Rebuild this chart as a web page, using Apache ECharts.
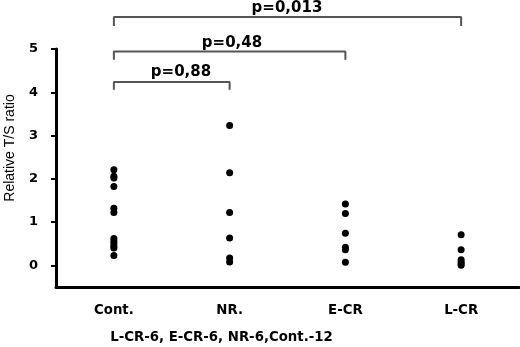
<!DOCTYPE html>
<html>
<head>
<meta charset="utf-8">
<script src="https://cdn.jsdelivr.net/npm/echarts@6/dist/echarts.min.js"></script>
<style>html,body{margin:0;padding:0;background:#fff}#c{width:520px;height:347px}</style>
</head>
<body>
<div id="c"></div>
<script>
var categories = ['Cont.', 'NR.', 'E-CR', 'L-CR'];
var contValues = [2.21, 2.06, 2.02, 1.82, 1.32, 1.22, 0.62, 0.56, 0.5, 0.44, 0.4, 0.23];
var nrValues = [3.23, 2.14, 1.22, 0.63, 0.17, 0.08];
var ecrValues = [1.42, 1.2, 0.74, 0.42, 0.36, 0.07];
var lcrValues = [0.71, 0.36, 0.13, 0.08, 0.04, 0.0];
var yTickValues = [0, 1, 2, 3, 4, 5];
var yAxisName = 'Relative T/S ratio';
var footnote = 'L-CR-6, E-CR-6, NR-6,Cont.-12';
var bracketFrom = ['Cont.', 'Cont.', 'Cont.'];
var bracketTo = ['NR.', 'E-CR', 'L-CR'];
var bracketTop = [4.24, 4.94, 5.74];
var bracketFoot = [4.06, 4.75, 5.53];
var pLabels = ['p=0,88', 'p=0,48', 'p=0,013'];

var groups = [contValues, nrValues, ecrValues, lcrValues];
var points = [];
groups.forEach(function (vals, i) {
  vals.forEach(function (v) { points.push([categories[i], v]); });
});

var bracketSeries = bracketTop.map(function (t, i) {
  return {
    type: 'line', clip: false, silent: true, symbol: 'none', animation: false,
    lineStyle: { color: '#555', width: 2 },
    data: [[bracketFrom[i], bracketFoot[i]], [bracketFrom[i], t], [bracketTo[i], t], [bracketTo[i], bracketFoot[i]]]
  };
});

var chart = echarts.init(document.getElementById('c'));
var FONT = 'DejaVu Sans';
chart.setOption({
  animation: false,
  grid: { left: 56, right: 1, top: 49, bottom: 60 },
  xAxis: {
    type: 'category', data: categories, boundaryGap: true,
    axisLine: { onZero: false, lineStyle: { color: '#000', width: 3 } },
    axisTick: { alignWithLabel: true, length: 5, lineStyle: { color: '#000', width: 2 } },
    axisLabel: { margin: 17, color: '#000', fontFamily: FONT, fontWeight: 'bold', fontSize: 13.3 }
  },
  yAxis: {
    type: 'value', min: -0.5, max: 5, interval: 0.5,
    splitLine: { show: false },
    axisLine: { show: true, lineStyle: { color: '#000', width: 3 } },
    axisTick: { show: true, length: 5, customValues: yTickValues, lineStyle: { color: '#000', width: 2 } },
    axisLabel: { margin: 18, customValues: yTickValues, color: '#000', fontFamily: FONT, fontWeight: 'bold', fontSize: 13 }
  },
  series: [{
    type: 'scatter', data: points, symbol: 'circle', symbolSize: 7,
    itemStyle: { color: '#000', opacity: 1 }
  }].concat(bracketSeries),
  graphic: [
    { type: 'text', x: 10, y: 148, rotation: Math.PI / 2,
      style: { text: yAxisName, fill: '#000', font: '14px "Liberation Sans"', align: 'center', verticalAlign: 'middle' } },
    { type: 'text', x: 221.5, y: 338,
      style: { text: footnote, fill: '#000', font: 'bold 13.3px "DejaVu Sans"', align: 'center', verticalAlign: 'middle' } },
    { type: 'text', x: 181, y: 72,
      style: { text: pLabels[0], fill: '#000', font: 'bold 15px "DejaVu Sans"', align: 'center', verticalAlign: 'middle' } },
    { type: 'text', x: 232, y: 43,
      style: { text: pLabels[1], fill: '#000', font: 'bold 15px "DejaVu Sans"', align: 'center', verticalAlign: 'middle' } },
    { type: 'text', x: 287, y: 8,
      style: { text: pLabels[2], fill: '#000', font: 'bold 15px "DejaVu Sans"', align: 'center', verticalAlign: 'middle' } }
  ]
});
</script>
</body>
</html>
